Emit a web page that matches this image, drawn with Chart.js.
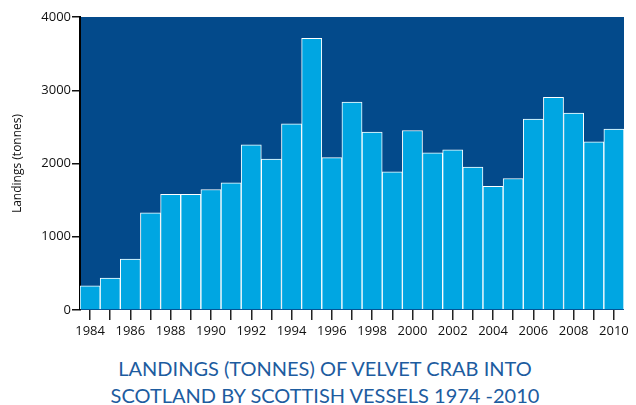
<!DOCTYPE html>
<html>
<head>
<meta charset="utf-8">
<script src="https://cdn.jsdelivr.net/npm/chart.js@4"></script>
<style>
  html, body { margin: 0; padding: 0; background: #fff; }
  #wrap { position: relative; width: 636px; height: 405px; overflow: hidden; }
  #myChart { position: absolute; left: 0; top: 0; }
  #title {
    position: absolute; left: 0; top: 355px; width: 650px;
    text-align: center; font-family: Lato, sans-serif; font-size: 20px;
    line-height: 27px; color: #1d5c9f; white-space: nowrap;
  }
</style>
</head>
<body>
<div id="wrap">
  <canvas id="myChart" width="636" height="348"></canvas>
  <div id="title"></div>
</div>
<script>
  var years = ['1984', '1985', '1986', '1987', '1988', '1989', '1990', '1991', '1992',
    '1993', '1994', '1995', '1996', '1997', '1998', '1999', '2000', '2001', '2002',
    '2003', '2004', '2005', '2006', '2007', '2008', '2009', '2010'];
  var landings = [330, 435, 695, 1325, 1580, 1580, 1645, 1735, 2255,
    2060, 2540, 3710, 2080, 2840, 2430, 1885, 2450, 2145, 2185,
    1950, 1690, 1795, 2605, 2905, 2690, 2295, 2470];
  var yTicks = [0, 1000, 2000, 3000, 4000];
  var titleLines = ['LANDINGS (TONNES) OF VELVET CRAB INTO', 'SCOTLAND BY SCOTTISH VESSELS 1974 -2010'];

  document.getElementById('title').innerHTML = titleLines.join('<br>');

  // paints the plot area dark blue before the bars go on
  var plotBackground = {
    id: 'plotBackground',
    beforeDraw: function (chart) {
      var a = chart.chartArea;
      var c = chart.ctx;
      c.save();
      c.fillStyle = '#034a8b';
      c.fillRect(a.left, a.top, a.right - a.left, a.bottom - a.top);
      c.restore();
    }
  };

  var ctx = document.getElementById('myChart');

  new Chart(ctx, {
    type: 'bar',
    data: {
      labels: years,
      datasets: [{
        label: 'Landings',
        data: landings,
        backgroundColor: '#00a6e2',
        borderColor: '#ffffff',
        borderWidth: 1,
        barPercentage: 1,
        categoryPercentage: 1
      }]
    },
    plugins: [plotBackground],
    options: {
      responsive: false,
      animation: false,
      layout: { padding: { top: 17, right: 12, left: 10, bottom: 0 } },
      plugins: {
        legend: { display: false },
        tooltip: { enabled: false },
        title: { display: false }
      },
      scales: {
        x: {
          offset: true,
          grid: { offset: false, drawOnChartArea: false, drawTicks: true, tickLength: 10, color: '#222', lineWidth: 1.5 },
          border: { display: false },
          ticks: {
            autoSkip: false,
            maxRotation: 0,
            padding: 3,
            color: '#111',
            font: { family: 'Open Sans', size: 13 },
            callback: function (v, i) { return i % 2 === 0 ? years[i] : ''; }
          },
          afterFit: function (scale) { scale.height = 38; }
        },
        y: {
          min: 0,
          max: 4000,
          afterBuildTicks: function (scale) {
            scale.ticks = yTicks.map(function (v) { return { value: v }; });
          },
          grid: { drawOnChartArea: false, drawTicks: true, tickLength: 8, color: '#111', lineWidth: 1.5 },
          border: { display: true, color: '#000', width: 2 },
          ticks: {
            color: '#111',
            padding: 1,
            font: { family: 'Open Sans', size: 13 },
            callback: function (v) { return String(v); }
          },
          title: {
            display: true,
            text: 'Landings (tonnes)',
            color: '#111',
            font: { family: 'Open Sans', size: 12 },
            padding: { top: 0, bottom: 4 }
          },
          afterFit: function (scale) { scale.width = 70; }
        }
      }
    }
  });
</script>
</body>
</html>
